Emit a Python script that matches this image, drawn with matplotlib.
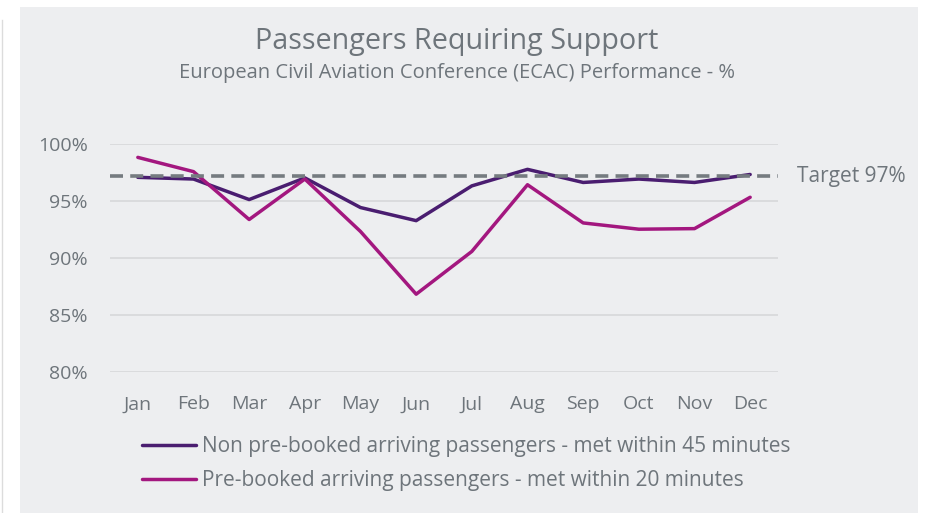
import matplotlib
matplotlib.use("Agg")
from matplotlib import pyplot as plt

months = ["Jan", "Feb", "Mar", "Apr", "May", "Jun", "Jul", "Aug", "Sep", "Oct", "Nov", "Dec"]
non_prebooked = [97.05, 96.9, 95.1, 97.0, 94.4, 93.25, 96.3, 97.75, 96.6, 96.9, 96.6, 97.3]
prebooked = [98.8, 97.55, 93.35, 96.9, 92.3, 86.8, 90.55, 96.4, 93.05, 92.5, 92.55, 95.3]
target = 97.15
yticks = [80, 85, 90, 95, 100]

grey_txt = "#6E757B"
bg = "#EDEEF0"

plt.rcParams['font.family'] = ['Open Sans', 'DejaVu Sans']

fig = plt.figure(figsize=(9.25, 5.13), dpi=100)
fig.patch.set_facecolor("white")

# grey panel behind the chart
panel = fig.add_axes([20/925, 0, 898/925, 1 - 7/513], zorder=-1)
panel.set_facecolor(bg)
panel.set_xticks([])
panel.set_yticks([])
for s in panel.spines.values():
    s.set_visible(False)
fig.add_artist(plt.Line2D([1.5/925, 1.5/925], [0, 1 - 20/513], transform=fig.transFigure,
                          color="#dcdcdc", lw=1))

ax = fig.add_axes([110/925, 1 - 371.7/513, (778 - 110)/925, (371.7 - 143.7)/513])
ax.patch.set_alpha(0)
x = range(len(months))
l1, = ax.plot(x, non_prebooked, color="#4A1D70", lw=2.5, solid_capstyle="round",
              label="Non pre-booked arriving passengers - met within 45 minutes", zorder=3)
l2, = ax.plot(x, prebooked, color="#A3177F", lw=2.5, solid_capstyle="round",
              label="Pre-booked arriving passengers - met within 20 minutes", zorder=3)
ax.axhline(target, color="#757B80", lw=2.6, ls=(0, (3.6, 2)), zorder=4)

ax.set_xlim(-0.5, len(months) - 0.5)
ax.set_ylim(80, 100)
ax.set_yticks(yticks)
ax.set_yticklabels([f"{v}%" for v in yticks])
ax.set_xticks(list(x))
ax.set_xticklabels(months)
ax.yaxis.grid(True, color="#D8D9DB", lw=1.3)
ax.set_axisbelow(True)
for s in ax.spines.values():
    s.set_visible(False)
ax.tick_params(length=0, labelsize=14, labelcolor=grey_txt)
ax.tick_params(axis="y", pad=16)
ax.tick_params(axis="x", pad=17)

ax.text(1.028, target, "Target 97%", transform=ax.get_yaxis_transform(), va="center",
        ha="left", fontsize=15, color=grey_txt)

fig.text(457/925, 1 - 42/513, "Passengers Requiring Support", ha="center", va="center",
         fontsize=20.7, color=grey_txt)
fig.text(457/925, 1 - 73/513, "European Civil Aviation Conference (ECAC) Performance - %",
         ha="center", va="center", fontsize=14.5, color=grey_txt)

leg = fig.legend(handles=[l1, l2], loc="upper left", bbox_to_anchor=(142/925, 1 - 436/513),
                 frameon=False, fontsize=15, handlelength=2.6, handletextpad=0.3,
                 labelspacing=0.62, labelcolor=grey_txt, borderaxespad=0, borderpad=0)

fig.savefig("out.png", dpi=100, facecolor="white")
